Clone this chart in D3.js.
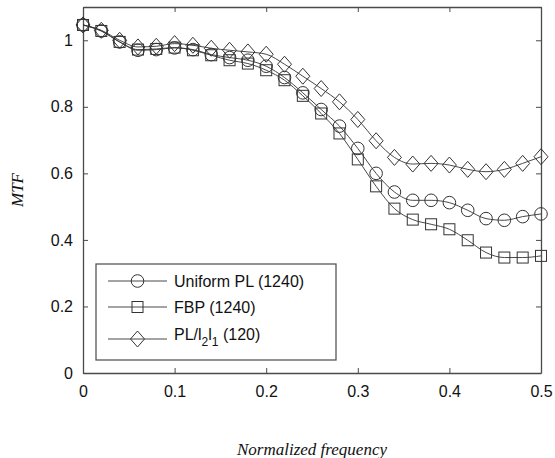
<!DOCTYPE html>
<html>
<head>
<meta charset="utf-8">
<script src="https://cdn.jsdelivr.net/npm/d3@7"></script>
<style>
  html, body { margin: 0; padding: 0; background: #fff; }
  svg { display: block; }
</style>
</head>
<body>
<svg id="chart" width="555" height="458"></svg>
<script>
// Normalized frequency samples
const freq = [0, 0.02, 0.04, 0.06, 0.08, 0.10, 0.12, 0.14, 0.16, 0.18, 0.20, 0.22, 0.24,
              0.26, 0.28, 0.30, 0.32, 0.34, 0.36, 0.38, 0.40, 0.42, 0.44, 0.46, 0.48, 0.50];

// MTF curves
const uniformPL = [1.046, 1.028, 0.995, 0.970, 0.972, 0.977, 0.972, 0.957, 0.948, 0.940, 0.922, 0.888, 0.842,
                   0.792, 0.742, 0.675, 0.600, 0.544, 0.519, 0.519, 0.512, 0.489, 0.464, 0.459, 0.470, 0.478];
const fbp       = [1.046, 1.028, 0.995, 0.972, 0.974, 0.978, 0.970, 0.955, 0.940, 0.930, 0.910, 0.880, 0.833,
                   0.780, 0.720, 0.642, 0.561, 0.494, 0.461, 0.447, 0.432, 0.399, 0.362, 0.347, 0.347, 0.352];
const plL2L1    = [1.046, 1.030, 1.000, 0.980, 0.982, 0.990, 0.985, 0.976, 0.970, 0.965, 0.958, 0.928, 0.892,
                   0.855, 0.815, 0.762, 0.698, 0.648, 0.628, 0.630, 0.625, 0.612, 0.605, 0.612, 0.630, 0.650];

const xTicks = [0, 0.1, 0.2, 0.3, 0.4, 0.5];
const yTicks = [0, 0.2, 0.4, 0.6, 0.8, 1];

const series = [
  { name: "Uniform PL (1240)", values: uniformPL, marker: "circle" },
  { name: "FBP (1240)",        values: fbp,       marker: "square" },
  { name: "PL/l2l1 (120)",     values: plL2L1,    marker: "diamond" }
];

const svg = d3.select("#chart");
const plot = { left: 83, right: 541, top: 7, bottom: 373 };

const x = d3.scaleLinear().domain([0, 0.5]).range([plot.left, plot.right]);
const y = d3.scaleLinear().domain([0, 1.1]).range([plot.bottom, plot.top]);

const ink = "#333";
const axisInk = "#4a4a4a";
const tickFont = "'Liberation Sans', Arial, Helvetica, sans-serif";

// Axes box with inward ticks on all four sides (MATLAB style)
const gx = svg.append("g").attr("transform", `translate(0,${plot.bottom})`)
  .call(d3.axisBottom(x).tickValues(xTicks).tickSizeInner(-5).tickSizeOuter(0).tickPadding(13)
        .tickFormat(d3.format("~g")));
const gxTop = svg.append("g").attr("transform", `translate(0,${plot.top})`)
  .call(d3.axisTop(x).tickValues(xTicks).tickSizeInner(-5).tickSizeOuter(0).tickFormat(""));
const gy = svg.append("g").attr("transform", `translate(${plot.left},0)`)
  .call(d3.axisLeft(y).tickValues(yTicks).tickSizeInner(-5).tickSizeOuter(0).tickPadding(10)
        .tickFormat(d3.format("~g")));
const gyRight = svg.append("g").attr("transform", `translate(${plot.right},0)`)
  .call(d3.axisRight(y).tickValues(yTicks).tickSizeInner(-5).tickSizeOuter(0).tickFormat(""));

[gx, gxTop, gy, gyRight].forEach(g => {
  g.select(".domain").attr("stroke", axisInk).attr("stroke-width", 1.3);
  g.selectAll(".tick line").attr("stroke", axisInk).attr("stroke-width", 1);
  g.selectAll(".tick text").attr("fill", "#111").style("font-family", tickFont).style("font-size", "16px");
});

// Curves
const line = d3.line().x((d, i) => x(freq[i])).y(d => y(d)).curve(d3.curveMonotoneX);

const markerPath = {
  circle:  d3.symbol().type(d3.symbolCircle).size(Math.PI * 6.3 * 6.3),
  square:  null,
  diamond: null
};

function drawMarker(g, type, cx, cy) {
  if (type === "circle") {
    g.append("circle").attr("cx", cx).attr("cy", cy).attr("r", 6.3)
      .attr("fill", "none").attr("stroke", ink).attr("stroke-width", 1);
  } else if (type === "square") {
    g.append("rect").attr("x", cx - 5.5).attr("y", cy - 5.5).attr("width", 11).attr("height", 11)
      .attr("fill", "none").attr("stroke", ink).attr("stroke-width", 1);
  } else {
    const w = 7, h = 8;
    g.append("path").attr("d", `M${cx},${cy - h}L${cx + w},${cy}L${cx},${cy + h}L${cx - w},${cy}Z`)
      .attr("fill", "none").attr("stroke", ink).attr("stroke-width", 1);
  }
}

const curves = svg.append("g");
series.forEach(s => {
  curves.append("path").datum(s.values).attr("d", line)
    .attr("fill", "none").attr("stroke", ink).attr("stroke-width", 0.9);
  const mg = curves.append("g");
  s.values.forEach((v, i) => drawMarker(mg, s.marker, x(freq[i]), y(v)));
});

// Legend
const legend = svg.append("g");
legend.append("rect").attr("x", 96).attr("y", 264).attr("width", 240).attr("height", 96)
  .attr("fill", "#fff").attr("stroke", axisInk).attr("stroke-width", 1.2);
const rowsY = [281, 307, 339];
series.forEach((s, i) => {
  const ry = rowsY[i];
  legend.append("line").attr("x1", 108).attr("x2", 167).attr("y1", ry).attr("y2", ry)
    .attr("stroke", ink).attr("stroke-width", 0.9);
  drawMarker(legend, s.marker, 137.5, ry);
  const t = legend.append("text").attr("x", 174).attr("y", ry + 6)
    .style("font-family", tickFont).style("font-size", "16px").attr("fill", "#111");
  if (s.marker === "diamond") {
    t.attr("y", ry + 1);
    t.append("tspan").text("PL/l");
    t.append("tspan").attr("dy", 6).style("font-size", "12px").text("2");
    t.append("tspan").attr("dy", -6).text("l");
    t.append("tspan").attr("dy", 6).style("font-size", "12px").text("1");
    t.append("tspan").attr("dy", -6).text(" (120)");
  } else {
    t.text(s.name);
  }
});

// Axis titles
const serif = "'Liberation Serif', 'DejaVu Serif', 'Times New Roman', serif";
svg.append("text").attr("x", (plot.left + plot.right) / 2).attr("y", 455)
  .attr("text-anchor", "middle").style("font-family", serif).style("font-style", "italic")
  .style("font-size", "17px").attr("fill", "#111").text("Normalized frequency");
svg.append("text").attr("transform", `translate(23,${(plot.top + plot.bottom) / 2}) rotate(-90)`)
  .attr("text-anchor", "middle").style("font-family", serif).style("font-style", "italic")
  .style("font-size", "17px").attr("fill", "#111").text("MTF");
</script>
</body>
</html>
